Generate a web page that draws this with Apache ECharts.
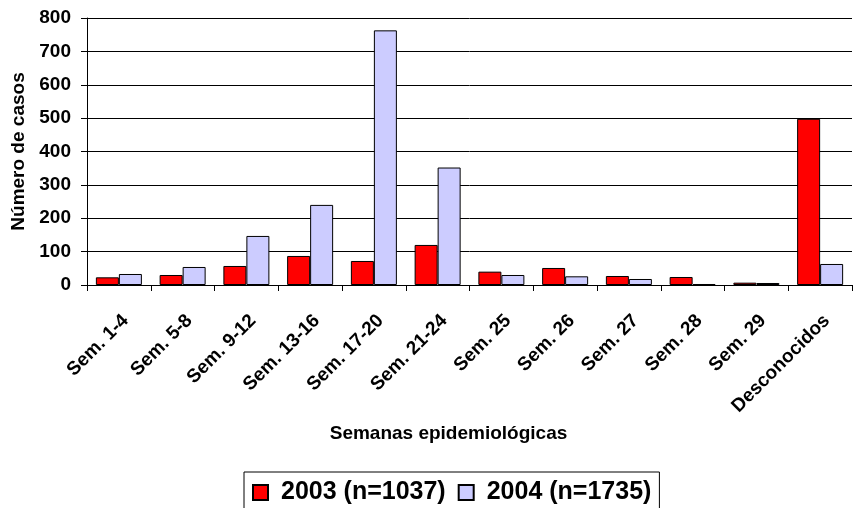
<!DOCTYPE html>
<html>
<head>
<meta charset="utf-8">
<script src="https://cdn.jsdelivr.net/npm/echarts@6/dist/echarts.min.js"></script>
<style>
  html, body { margin: 0; padding: 0; background: #fff; }
  #chart { width: 857px; height: 508px; }
</style>
</head>
<body>
<div id="chart"></div>
<script>
// datos
var semanas = ['Sem. 1-4', 'Sem. 5-8', 'Sem. 9-12', 'Sem. 13-16', 'Sem. 17-20', 'Sem. 21-24',
  'Sem. 25', 'Sem. 26', 'Sem. 27', 'Sem. 28', 'Sem. 29', 'Desconocidos'];
var casos2003 = [23, 30, 57, 87, 72, 120, 40, 51, 27, 24, 7, 498];
var casos2004 = [33, 54, 147, 240, 763, 352, 30, 26, 18, 3, 6, 63];
var nombre2003 = '2003 (n=1037)';
var nombre2004 = '2004 (n=1735)';

var fuente = 'Liberation Sans, Arial, sans-serif';
var myChart = echarts.init(document.getElementById('chart'));

var option = {
  animation: false,
  textStyle: { fontFamily: fuente },
  grid: { left: 87, right: 5, top: 18, bottom: 223 },
  legend: {
    data: [nombre2003, nombre2004],
    left: 244,
    top: 472,
    itemWidth: 15,
    itemHeight: 15,
    itemGap: 12,
    padding: [8, 8, 14, 8],
    borderColor: '#000',
    borderWidth: 1,
    icon: 'rect',
    textStyle: { fontSize: 25, fontWeight: 'bold', color: '#000', fontFamily: fuente, padding: [0, 0, 0, 8] }
  },
  xAxis: {
    type: 'category',
    data: semanas,
    name: 'Semanas epidemiológicas',
    nameLocation: 'middle',
    nameGap: 139,
    nameTextStyle: { fontSize: 19, fontWeight: 'bold', color: '#000', padding: [0, 42, 0, 0] },
    axisLine: { lineStyle: { color: '#000', width: 1 } },
    axisTick: { show: true, length: 6, lineStyle: { color: '#000' } },
    axisLabel: {
      rotate: 45, fontSize: 19, fontWeight: 'bold', color: '#000',
      margin: 26, interval: 0, align: 'right', verticalAlign: 'top'
    }
  },
  yAxis: {
    type: 'value',
    min: 0,
    max: 800,
    interval: 100,
    name: 'Número de casos',
    nameLocation: 'middle',
    nameGap: 58,
    nameTextStyle: { fontSize: 19, fontWeight: 'bold', color: '#000' },
    axisLine: { show: true, lineStyle: { color: '#000' } },
    axisTick: { show: true, length: 6, lineStyle: { color: '#000' } },
    axisLabel: { fontSize: 19, fontWeight: 'bold', color: '#000', margin: 16 },
    splitLine: { lineStyle: { color: '#000', width: 1 } }
  },
  series: [{
    name: nombre2003,
    type: 'bar',
    data: casos2003,
    barWidth: 23,
    barGap: '0%',
    itemStyle: { color: '#ff0000', borderColor: '#000', borderWidth: 1 }
  }, {
    name: nombre2004,
    type: 'bar',
    data: casos2004,
    barWidth: 23,
    itemStyle: { color: '#ccccff', borderColor: '#000', borderWidth: 1 }
  }]
};

myChart.setOption(option);
</script>
</body>
</html>
